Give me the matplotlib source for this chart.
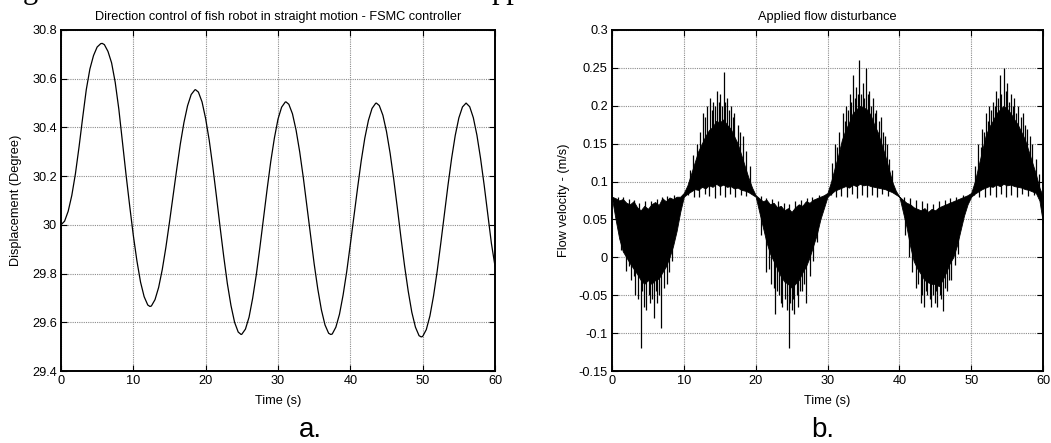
import numpy as np
import matplotlib
matplotlib.use("Agg")
import matplotlib.pyplot as plt
from matplotlib.ticker import FuncFormatter

plt.rcParams['font.family'] = ['Liberation Sans', 'DejaVu Sans']

# --- (a) heading angle under FSMC, time [s] / displacement [deg]
disp_t = [0.0, 0.5, 1.0, 1.5, 2.0, 2.5, 3.0, 3.5, 4.0, 4.5, 5.0, 5.5, 5.7,
          6.0, 6.5, 7.0, 7.5, 8.0, 8.5, 9.0, 9.5, 10.0, 10.5, 11.0, 11.5, 12.0, 12.3,
          12.5, 13.0, 13.5, 14.0, 14.5, 15.0, 15.5, 16.0, 16.5, 17.0, 17.5, 18.0, 18.5, 18.6,
          19.0, 19.5, 20.0, 20.5, 21.0, 21.5, 22.0, 22.5, 23.0, 23.5, 24.0, 24.5, 24.9,
          25.0, 25.5, 26.0, 26.5, 27.0, 27.5, 28.0, 28.5, 29.0, 29.5, 30.0, 30.5, 31.0, 31.1,
          31.5, 32.0, 32.5, 33.0, 33.5, 34.0, 34.5, 35.0, 35.5, 36.0, 36.5, 37.0, 37.3,
          37.5, 38.0, 38.5, 39.0, 39.5, 40.0, 40.5, 41.0, 41.5, 42.0, 42.5, 43.0, 43.5, 43.6,
          44.0, 44.5, 45.0, 45.5, 46.0, 46.5, 47.0, 47.5, 48.0, 48.5, 49.0, 49.5, 49.8,
          50.0, 50.5, 51.0, 51.5, 52.0, 52.5, 53.0, 53.5, 54.0, 54.5, 55.0, 55.5, 56.0,
          56.5, 57.0, 57.5, 58.0, 58.5, 59.0, 59.5, 60.0]
disp_deg = [30.000, 30.015, 30.056, 30.121, 30.210, 30.320, 30.440, 30.555, 30.640, 30.695, 30.730, 30.744, 30.745,
            30.740, 30.712, 30.665, 30.585, 30.475, 30.340, 30.205, 30.078, 29.957, 29.852, 29.765, 29.705, 29.671, 29.665,
            29.667, 29.693, 29.743, 29.816, 29.907, 30.011, 30.121, 30.228, 30.332, 30.420, 30.489, 30.535, 30.554, 30.555,
            30.545, 30.505, 30.436, 30.346, 30.236, 30.115, 29.990, 29.870, 29.759, 29.669, 29.600, 29.560, 29.550,
            29.551, 29.572, 29.621, 29.699, 29.795, 29.908, 30.028, 30.147, 30.260, 30.356, 30.434, 30.483, 30.504, 30.505,
            30.495, 30.456, 30.389, 30.300, 30.194, 30.076, 29.955, 29.840, 29.737, 29.651, 29.589, 29.555, 29.550,
            29.552, 29.580, 29.633, 29.712, 29.808, 29.920, 30.037, 30.151, 30.262, 30.356, 30.429, 30.478, 30.499, 30.500,
            30.490, 30.450, 30.383, 30.294, 30.187, 30.069, 29.947, 29.831, 29.728, 29.641, 29.580, 29.545, 29.540,
            29.542, 29.570, 29.626, 29.708, 29.809, 29.924, 30.044, 30.163, 30.273, 30.367, 30.439, 30.484, 30.500,
            30.485, 30.440, 30.368, 30.273, 30.163, 30.044, 29.924, 29.830]

# --- (b) flow disturbance: dense band (lower / upper edge every 0.5 s) plus the tall spikes
flow_t = np.arange(0, 60.5, 0.5)
flow_hi = [0.080, 0.078, 0.075, 0.077, 0.072, 0.070, 0.074, 0.066, 0.062, 0.068, 0.064, 0.070, 0.073, 0.069, 0.078, 0.074, 0.079, 0.077, 0.080, 0.080,
           0.085, 0.095, 0.110, 0.125, 0.140, 0.150, 0.160, 0.168, 0.172, 0.180, 0.178, 0.182, 0.175, 0.170, 0.160, 0.150, 0.135, 0.120, 0.105, 0.092,
           0.082, 0.078, 0.074, 0.076, 0.070, 0.072, 0.066, 0.068, 0.062, 0.065, 0.060, 0.066, 0.070, 0.068, 0.074, 0.072, 0.076, 0.078, 0.080, 0.082,
           0.085, 0.100, 0.118, 0.135, 0.155, 0.168, 0.178, 0.190, 0.195, 0.200, 0.198, 0.195, 0.188, 0.175, 0.165, 0.150, 0.135, 0.118, 0.100, 0.088,
           0.080, 0.076, 0.072, 0.070, 0.066, 0.064, 0.062, 0.065, 0.060, 0.064, 0.062, 0.066, 0.068, 0.070, 0.072, 0.074, 0.076, 0.078, 0.080, 0.082,
           0.085, 0.100, 0.120, 0.140, 0.160, 0.172, 0.180, 0.190, 0.195, 0.200, 0.196, 0.190, 0.182, 0.175, 0.165, 0.155, 0.140, 0.125, 0.110, 0.092, 0.080]
flow_lo = [0.078, 0.050, 0.025, 0.008, 0.000, -0.008, -0.015, -0.022, -0.030, -0.035, -0.030, -0.035, -0.030, -0.028, -0.020, -0.012, 0.000, 0.015, 0.035, 0.060,
           0.080, 0.084, 0.087, 0.090, 0.089, 0.093, 0.091, 0.095, 0.093, 0.097, 0.094, 0.096, 0.093, 0.094, 0.091, 0.092, 0.089, 0.088, 0.086, 0.083,
           0.080, 0.060, 0.040, 0.020, 0.005, -0.005, -0.015, -0.025, -0.032, -0.035, -0.040, -0.035, -0.030, -0.020, -0.012, 0.000, 0.015, 0.030, 0.050, 0.065,
           0.080, 0.084, 0.088, 0.090, 0.092, 0.094, 0.092, 0.096, 0.094, 0.097, 0.095, 0.096, 0.094, 0.093, 0.092, 0.091, 0.090, 0.088, 0.086, 0.083,
           0.080, 0.060, 0.040, 0.015, -0.005, -0.015, -0.022, -0.030, -0.033, -0.035, -0.035, -0.038, -0.030, -0.020, -0.008, 0.000, 0.015, 0.035, 0.055, 0.070,
           0.080, 0.084, 0.087, 0.090, 0.092, 0.094, 0.093, 0.096, 0.094, 0.097, 0.095, 0.096, 0.094, 0.093, 0.092, 0.090, 0.089, 0.087, 0.085, 0.075, 0.045]

# tall spikes leaving the band (down in the low phases, up in the high ones)
spike_t = [1.2, 1.9, 2.3, 2.6, 3.0, 3.2, 3.6, 4.0, 4.2, 4.4, 4.8, 5.1, 5.3, 5.6, 5.9, 6.1, 6.3, 6.6, 6.8, 7.2, 7.6, 8.0, 8.4,
           10.8, 11.3, 11.8, 12.2, 12.6, 13.0, 13.2, 13.6, 13.9, 14.1, 14.4, 14.6, 14.9, 15.1, 15.3, 15.6, 15.8, 16.0, 16.3, 16.5, 16.8, 17.0, 17.5, 17.8, 18.2, 18.7, 19.2,
           20.8, 21.4, 21.8, 22.2, 22.5, 22.7, 23.0, 23.2, 23.5, 23.7, 24.1, 24.3, 24.6, 24.8, 25.0, 25.2, 25.4, 25.7, 25.9, 26.2, 26.4, 26.7, 27.0, 27.5, 28.0, 28.6,
           30.6, 31.0, 31.3, 31.6, 32.1, 32.4, 32.6, 32.9, 33.1, 33.3, 33.5, 33.8, 34.0, 34.2, 34.4, 34.7, 34.9, 35.1, 35.4, 35.6, 35.8, 36.1, 36.3, 36.6, 36.8, 37.1, 37.4, 37.7, 38.0, 38.3, 38.6, 39.0,
           40.8, 41.3, 41.8, 42.3, 42.6, 43.0, 43.2, 43.4, 43.7, 43.9, 44.2, 44.4, 44.7, 44.9, 45.1, 45.3, 45.6, 45.8, 46.1, 46.4, 46.6, 46.9, 47.2, 47.7, 48.2,
           50.6, 51.0, 51.3, 51.5, 51.8, 52.0, 52.3, 52.5, 52.8, 53.0, 53.3, 53.5, 53.8, 54.0, 54.2, 54.5, 54.8, 55.0, 55.3, 55.5, 55.8, 56.0, 56.3, 56.5, 56.9, 57.2, 57.5, 57.8, 58.2, 58.5, 59.0, 59.4]
spike_v = [0.010, -0.018, -0.012, -0.030, -0.025, -0.050, -0.055, -0.120, -0.045, -0.065, -0.070, -0.050, -0.060, -0.055, -0.080, -0.045, -0.060, -0.050, -0.093, -0.040, -0.035, -0.020, -0.005,
           0.115, 0.135, 0.150, 0.165, 0.190, 0.185, 0.200, 0.210, 0.195, 0.205, 0.200, 0.220, 0.205, 0.215, 0.200, 0.245, 0.205, 0.210, 0.195, 0.200, 0.185, 0.190, 0.175, 0.165, 0.160, 0.140, 0.120,
           0.030, -0.020, -0.015, -0.035, -0.040, -0.075, -0.045, -0.050, -0.060, -0.065, -0.055, -0.070, -0.120, -0.060, -0.070, -0.055, -0.075, -0.050, -0.065, -0.045, -0.045, -0.035, -0.060, -0.025, -0.005, 0.020,
           0.125, 0.150, 0.145, 0.165, 0.190, 0.180, 0.200, 0.195, 0.215, 0.205, 0.240, 0.210, 0.225, 0.215, 0.260, 0.215, 0.230, 0.210, 0.250, 0.215, 0.220, 0.200, 0.210, 0.190, 0.195, 0.180, 0.185, 0.165, 0.160, 0.150, 0.130, 0.115,
           0.030, 0.000, -0.020, -0.040, -0.035, -0.060, -0.050, -0.065, -0.045, -0.050, -0.055, -0.066, -0.050, -0.060, -0.045, -0.066, -0.050, -0.055, -0.071, -0.040, -0.045, -0.030, -0.030, -0.010, 0.005,
           0.120, 0.150, 0.145, 0.170, 0.165, 0.190, 0.180, 0.200, 0.195, 0.205, 0.200, 0.220, 0.210, 0.240, 0.215, 0.250, 0.220, 0.230, 0.205, 0.215, 0.200, 0.210, 0.190, 0.200, 0.185, 0.190, 0.175, 0.170, 0.160, 0.150, 0.130, 0.110]

# short ticks on the quiet side of the band (back towards ~0.08)
edge_t = [0.8, 1.6, 2.4, 3.1, 3.8, 4.6, 5.4, 6.2, 6.9, 7.7, 8.6,
          10.6, 11.4, 12.1, 12.9, 13.5, 14.3, 15.0, 15.7, 16.4, 17.1, 17.9, 18.6,
          20.7, 21.5, 22.3, 23.1, 23.9, 24.7, 25.5, 26.3, 27.1, 27.9, 28.8,
          30.5, 31.2, 31.9, 32.7, 33.4, 34.1, 34.8, 35.5, 36.2, 36.9, 37.6, 38.4,
          40.7, 41.5, 42.3, 43.1, 43.9, 44.7, 45.5, 46.3, 47.1, 47.9, 48.8,
          50.4, 51.1, 51.9, 52.6, 53.4, 54.1, 54.9, 55.6, 56.4, 57.1, 57.9, 58.7]
edge_v = [0.080, 0.079, 0.077, 0.076, 0.072, 0.074, 0.075, 0.077, 0.080, 0.081, 0.082,
          0.082, 0.080, 0.079, 0.083, 0.081, 0.078, 0.082, 0.080, 0.083, 0.080, 0.082, 0.081,
          0.081, 0.078, 0.077, 0.075, 0.072, 0.070, 0.074, 0.076, 0.078, 0.080, 0.082,
          0.082, 0.079, 0.081, 0.080, 0.083, 0.078, 0.082, 0.080, 0.082, 0.079, 0.083, 0.081,
          0.080, 0.078, 0.076, 0.074, 0.072, 0.071, 0.074, 0.076, 0.078, 0.080, 0.082,
          0.082, 0.080, 0.079, 0.082, 0.080, 0.083, 0.079, 0.082, 0.080, 0.083, 0.081, 0.082]

time_ticks = [0, 10, 20, 30, 40, 50, 60]
disp_ticks = [29.4, 29.6, 29.8, 30.0, 30.2, 30.4, 30.6, 30.8]
flow_ticks = [-0.15, -0.1, -0.05, 0, 0.05, 0.1, 0.15, 0.2, 0.25, 0.3]

FS = 9.2

fig = plt.figure(figsize=(10.51, 4.43), dpi=100)
ax1 = fig.add_axes([0.0580, 0.1625, 0.4130, 0.7698])
ax2 = fig.add_axes([0.5823, 0.1625, 0.4101, 0.7698])

fmt = FuncFormatter(lambda v, p: ('%g' % round(v, 4)).replace('\u2212', '-'))

def matlab_axes(ax, yticks, title, ylabel, ylabel_x):
    ax.set_xlim(0, 60)
    ax.set_xticks(time_ticks)
    ax.set_ylim(yticks[0], yticks[-1])
    ax.set_yticks(yticks)
    ax.yaxis.set_major_formatter(fmt)
    ax.xaxis.set_major_formatter(fmt)
    ax.grid(True, color='0.55', linestyle=(0, (1, 1)), linewidth=0.8)
    ax.set_axisbelow(True)
    ax.tick_params(direction='in', length=4, width=0.8, top=True, right=True,
                   labelsize=FS, pad=3)
    for s in ax.spines.values():
        s.set_linewidth(1.4)
    ax.set_title(title, fontsize=FS, pad=7)
    ax.set_xlabel('Time (s)', fontsize=FS)
    ax.xaxis.set_label_coords(0.5, -0.07)
    ax.set_ylabel(ylabel, fontsize=FS)
    ax.yaxis.set_label_coords(ylabel_x, 0.5)

ax1.plot(disp_t, disp_deg, color='black', linewidth=0.9)
matlab_axes(ax1, disp_ticks, 'Direction control of fish robot in straight motion - FSMC controller',
            'Displacement (Degree)', -0.09)

# spikes start inside the band so they don't flatten its edges
band_mid = (np.array(flow_lo) + np.array(flow_hi)) / 2
ax2.fill_between(flow_t, flow_lo, flow_hi, color='black', linewidth=0.6)
ax2.vlines(spike_t, np.interp(spike_t, flow_t, band_mid), spike_v, color='black', linewidth=0.9)
ax2.vlines(edge_t, np.interp(edge_t, flow_t, band_mid), edge_v, color='black', linewidth=0.9)
matlab_axes(ax2, flow_ticks, 'Applied flow disturbance', 'Flow velocity - (m/s)', -0.0975)

fig.text(0.295, 0.014, 'a.', fontsize=20, ha='center', va='baseline')
fig.text(0.783, 0.014, 'b.', fontsize=20, ha='center', va='baseline')

# tail of the caption line running above the figure
fig.text(0.022, 1.004, 'g', family='Liberation Serif', fontsize=22, va='baseline')
fig.text(0.468, 1.004, 'pp', family='Liberation Serif', fontsize=22, va='baseline')

fig.savefig('out.png', dpi=100)
